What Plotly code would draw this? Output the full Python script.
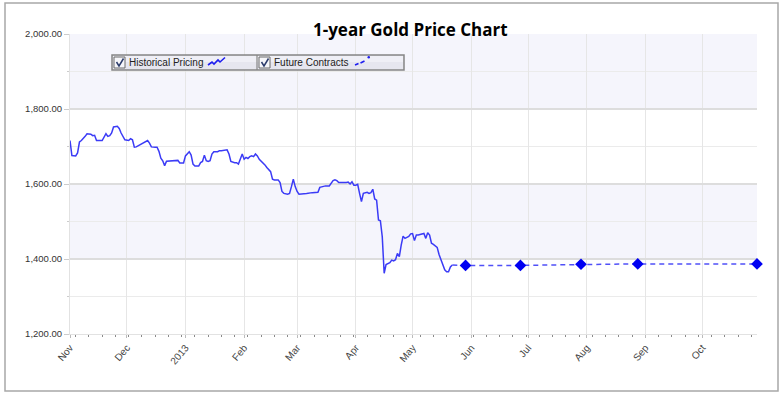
import plotly.graph_objects as go

# ---------------- data ----------------
HIST_DATES = [
    "2012-11-01", "2012-11-02", "2012-11-04", "2012-11-05", "2012-11-06", "2012-11-07",
    "2012-11-09", "2012-11-10", "2012-11-12", "2012-11-13", "2012-11-14", "2012-11-15",
    "2012-11-18", "2012-11-19", "2012-11-20", "2012-11-21", "2012-11-22", "2012-11-23",
    "2012-11-24", "2012-11-26", "2012-11-27", "2012-11-28", "2012-11-29", "2012-11-30",
    "2012-12-02", "2012-12-03", "2012-12-04", "2012-12-05", "2012-12-06", "2012-12-08",
    "2012-12-09", "2012-12-10", "2012-12-11", "2012-12-12", "2012-12-13", "2012-12-14",
    "2012-12-16", "2012-12-17", "2012-12-18", "2012-12-19", "2012-12-20", "2012-12-21",
    "2012-12-22", "2012-12-25", "2012-12-27", "2012-12-28", "2012-12-29", "2012-12-31",
    "2013-01-01", "2013-01-03", "2013-01-04", "2013-01-05", "2013-01-06", "2013-01-08",
    "2013-01-09", "2013-01-10", "2013-01-11", "2013-01-12", "2013-01-13", "2013-01-14",
    "2013-01-15", "2013-01-16", "2013-01-18", "2013-01-19", "2013-01-20", "2013-01-22",
    "2013-01-23", "2013-01-24", "2013-01-25", "2013-01-27", "2013-01-28", "2013-01-29",
    "2013-01-30", "2013-01-31", "2013-02-01", "2013-02-02", "2013-02-03", "2013-02-04",
    "2013-02-05", "2013-02-06", "2013-02-07", "2013-02-08", "2013-02-09", "2013-02-11",
    "2013-02-12", "2013-02-13", "2013-02-14", "2013-02-15", "2013-02-16", "2013-02-17",
    "2013-02-19", "2013-02-20", "2013-02-21", "2013-02-22", "2013-02-24", "2013-02-25",
    "2013-02-26", "2013-02-27", "2013-02-28", "2013-03-01", "2013-03-02", "2013-03-05",
    "2013-03-06", "2013-03-09", "2013-03-11", "2013-03-12", "2013-03-13", "2013-03-14",
    "2013-03-16", "2013-03-18", "2013-03-19", "2013-03-20", "2013-03-21", "2013-03-22",
    "2013-03-23", "2013-03-24", "2013-03-25", "2013-03-26", "2013-03-27", "2013-03-28",
    "2013-03-29", "2013-03-30", "2013-03-31", "2013-04-01", "2013-04-02", "2013-04-03",
    "2013-04-04", "2013-04-05", "2013-04-07", "2013-04-08", "2013-04-09", "2013-04-10",
    "2013-04-11", "2013-04-12", "2013-04-13", "2013-04-14", "2013-04-15", "2013-04-16",
    "2013-04-17", "2013-04-19", "2013-04-20", "2013-04-21", "2013-04-22", "2013-04-23",
    "2013-04-24", "2013-04-25", "2013-04-26", "2013-04-27", "2013-04-28", "2013-04-29",
    "2013-04-30", "2013-05-01", "2013-05-02", "2013-05-03", "2013-05-04", "2013-05-05",
    "2013-05-06", "2013-05-07", "2013-05-08", "2013-05-09", "2013-05-10", "2013-05-11",
    "2013-05-12", "2013-05-13", "2013-05-14", "2013-05-15", "2013-05-16", "2013-05-17",
    "2013-05-18", "2013-05-19", "2013-05-20", "2013-05-21", "2013-05-22",
]
HIST_PRICES = [
    1716, 1676, 1675, 1683, 1712, 1716,
    1727, 1734, 1733, 1729, 1730, 1716,
    1716, 1727, 1734, 1727, 1729, 1736,
    1752, 1754, 1748, 1736, 1725, 1718,
    1716, 1721, 1718, 1698, 1699, 1705,
    1707, 1709, 1712, 1716, 1709, 1699,
    1698, 1698, 1687, 1669, 1662, 1649,
    1661, 1661, 1661, 1663, 1656, 1656,
    1675, 1686, 1677, 1653, 1648, 1648,
    1657, 1660, 1677, 1662, 1660, 1662,
    1680, 1686, 1686, 1689, 1689, 1691,
    1691, 1680, 1660, 1657, 1657, 1653,
    1666, 1680, 1666, 1671, 1668, 1673,
    1675, 1673, 1680, 1675, 1666, 1657,
    1651, 1644, 1639, 1633, 1613, 1611,
    1611, 1604, 1580, 1575, 1573, 1575,
    1593, 1613, 1593, 1580, 1573, 1573,
    1575, 1577, 1578, 1578, 1591, 1593,
    1595, 1595, 1602, 1609, 1611, 1609,
    1604, 1604, 1604, 1602, 1604, 1605,
    1600, 1606, 1597, 1597, 1599, 1575,
    1553, 1575, 1578, 1575, 1577, 1586,
    1560, 1557, 1504, 1502, 1459, 1362,
    1385, 1390, 1397, 1395, 1398, 1415,
    1406, 1437, 1461, 1455, 1458, 1460,
    1467, 1468, 1449, 1464, 1464, 1465,
    1466, 1468, 1455, 1470, 1464, 1442,
    1439, 1436, 1431, 1412, 1398, 1385,
    1371, 1366, 1366, 1379, 1384,
]
FUT_DATES = ["2013-05-22", "2013-05-29", "2013-06-27", "2013-07-29", "2013-08-28", "2013-10-30"]
FUT_PRICES = [1384, 1383, 1383, 1386, 1387, 1387]

MONTH_TICKS = ["2012-11-01", "2012-12-01", "2013-01-01", "2013-02-01", "2013-03-01", "2013-04-01",
               "2013-05-01", "2013-06-01", "2013-07-01", "2013-08-01", "2013-09-01", "2013-10-01"]
MONTH_LABELS = ["Nov", "Dec", "2013", "Feb", "Mar", "Apr", "May", "Jun", "Jul", "Aug", "Sep", "Oct"]
X_RANGE = ["2012-11-01", "2013-10-30"]
Y_RANGE = [1200, 2000]
SHADED_BANDS = [(1800, 2000), (1400, 1600)]
TITLE = "1-year Gold Price Chart"
LEGEND_LABELS = ["Historical Pricing", "Future Contracts"]

# ---------------- layout helpers (pixel -> paper) ----------------
W, H = 780, 395
PL, PR, PT, PB = 70, 757, 34, 334


def fx(px):
    return (px - PL) / (PR - PL)


def fy(py):
    return (PB - py) / (PB - PT)


BLUE = "#3B3BF6"
FONT = "Liberation Sans, Arial, sans-serif"

fig = go.Figure()
fig.add_trace(go.Scatter(x=HIST_DATES, y=HIST_PRICES, mode="lines",
                         line=dict(color=BLUE, width=1.5), name=LEGEND_LABELS[0],
                         showlegend=False, hoverinfo="x+y"))
fig.add_trace(go.Scatter(x=FUT_DATES, y=FUT_PRICES, mode="lines",
                         line=dict(color="#5050F8", width=1.5, dash="5px,4px"),
                         name=LEGEND_LABELS[1], showlegend=False))
fig.add_trace(go.Scatter(x=FUT_DATES[1:], y=FUT_PRICES[1:], mode="markers",
                         marker=dict(symbol="diamond", size=9, color="#0000F2"),
                         cliponaxis=False, name=LEGEND_LABELS[1], showlegend=False))

shapes = []
for lo, hi in SHADED_BANDS:
    shapes.append(dict(type="rect", xref="paper", yref="y", x0=0, x1=1, y0=lo, y1=hi,
                       fillcolor="#F5F5FC", line=dict(width=0), layer="below"))

# outer frame
shapes.append(dict(type="rect", xref="paper", yref="paper", x0=fx(5), x1=fx(778),
                   y0=fy(391), y1=fy(3), line=dict(color="#A8A8A8", width=1.5),
                   fillcolor="rgba(0,0,0,0)", layer="above"))

# legend box
shapes.append(dict(type="rect", xref="paper", yref="paper", x0=fx(112), x1=fx(404),
                   y0=fy(70), y1=fy(55), line=dict(color="#858585", width=1.5),
                   fillcolor="#E6E6EF", layer="above"))
shapes.append(dict(type="rect", xref="paper", yref="paper", x0=fx(113), x1=fx(403),
                   y0=fy(62), y1=fy(56), line=dict(width=0),
                   fillcolor="#EFEFF6", layer="above"))
shapes.append(dict(type="line", xref="paper", yref="paper", x0=fx(257), x1=fx(257),
                   y0=fy(70), y1=fy(55), line=dict(color="#858585", width=1.2), layer="above"))
for cx in (114, 259):
    shapes.append(dict(type="rect", xref="paper", yref="paper", x0=fx(cx), x1=fx(cx + 11),
                       y0=fy(68), y1=fy(57), line=dict(color="#6A6A6A", width=1),
                       fillcolor="#F6F6FA", layer="above"))
    shapes.append(dict(type="path", xref="paper", yref="paper",
                       path=f"M{fx(cx + 2.5)},{fy(62)} L{fx(cx + 5)},{fy(66)} L{fx(cx + 9.5)},{fy(58.5)}",
                       line=dict(color="#2C3C6C", width=1.5), layer="above"))
# legend icons
shapes.append(dict(type="path", xref="paper", yref="paper",
                   path=(f"M{fx(208)},{fy(65)} L{fx(212)},{fy(62)} L{fx(214)},{fy(64)} "
                         f"L{fx(218)},{fy(60)} L{fx(220)},{fy(62)} L{fx(225)},{fy(57.5)}"),
                   line=dict(color="#1E1EF0", width=1.6), layer="above"))
shapes.append(dict(type="path", xref="paper", yref="paper",
                   path=(f"M{fx(355)},{fy(65)} L{fx(358.5)},{fy(63.5)} "
                         f"M{fx(360.5)},{fy(63)} L{fx(364.5)},{fy(61)}"),
                   line=dict(color="#1E1EF0", width=1.6), layer="above"))
shapes.append(dict(type="circle", xref="paper", yref="paper", x0=fx(367.5), x1=fx(370),
                   y0=fy(58.5), y1=fy(56), fillcolor="#1E1EF0", line=dict(width=0), layer="above"))

annotations = [
    dict(text=f"<b>{TITLE}</b>", xref="paper", yref="paper", x=fx(410), y=fy(30),
         xanchor="center", yanchor="middle", showarrow=False,
         font=dict(family="Open Sans, Lato, sans-serif", size=17, color="#000000")),
    dict(text=LEGEND_LABELS[0], xref="paper", yref="paper", x=fx(127), y=fy(62.5),
         xanchor="left", yanchor="middle", showarrow=False,
         font=dict(family=FONT, size=10, color="#222222")),
    dict(text=LEGEND_LABELS[1], xref="paper", yref="paper", x=fx(272), y=fy(62.5),
         xanchor="left", yanchor="middle", showarrow=False,
         font=dict(family=FONT, size=10, color="#222222")),
]

fig.update_layout(
    width=W, height=H,
    margin=dict(l=PL, r=W - PR, t=PT, b=H - PB, pad=0),
    paper_bgcolor="white", plot_bgcolor="white",
    showlegend=False,
    shapes=shapes, annotations=annotations,
    xaxis=dict(
        type="date", range=X_RANGE,
        tickmode="array", tickvals=MONTH_TICKS, ticktext=MONTH_LABELS,
        tickangle=-50, tickfont=dict(family=FONT, size=10, color="#444444"),
        showgrid=True, gridcolor="#E6E6E6", gridwidth=1,
        ticks="outside", ticklen=3, tickcolor="#BBBBBB",
        showline=True, linecolor="#E2E2E2", linewidth=1, zeroline=False,
        minor=dict(tickmode="linear", tick0="2012-11-04", dtick=7 * 86400000,
                   ticks="outside", ticklen=2, tickwidth=1.2, tickcolor="#8A8A8A", showgrid=False),
    ),
    yaxis=dict(
        range=Y_RANGE, dtick=200, tick0=1200, tickformat=",.2f",
        tickfont=dict(family=FONT, size=9.5, color="#333333"),
        showgrid=True, gridcolor="#DDDDDD", gridwidth=1.5,
        ticks="outside", ticklen=5, tickcolor="#CCCCCC",
        showline=True, linecolor="#E2E2E2", linewidth=1, zeroline=False,
        minor=dict(dtick=100, tick0=1200, showgrid=True, gridcolor="#EBEBEB", gridwidth=1,
                   ticks="outside", ticklen=2, tickcolor="#CCCCCC"),
    ),
)

fig.write_html("out.html", config={"displayModeBar": False},
               post_script="document.body.style.margin='0px';document.body.style.padding='0px';")
